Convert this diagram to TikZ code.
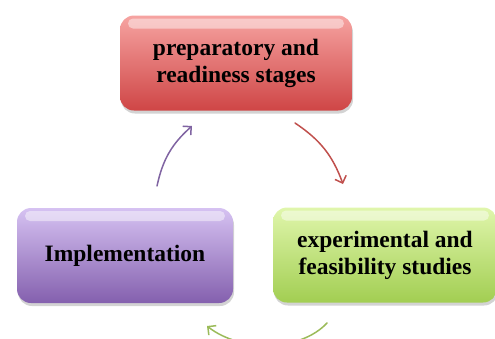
\documentclass[tikz,border=0pt]{standalone}
\usepackage{fontspec}
\setmainfont{Liberation Serif}
\usepackage{xcolor}
\usepackage{tikz}
\usetikzlibrary{arrows.meta,shadows}
\definecolor{redTop}{HTML}{F6A3A1}
\definecolor{redBot}{HTML}{CF4646}
\definecolor{redLine}{HTML}{C0504D}
\definecolor{purpleTop}{HTML}{D6C2F2}
\definecolor{purpleBot}{HTML}{8460AE}
\definecolor{purpleLine}{HTML}{8064A2}
\definecolor{greenTop}{HTML}{E0F6AC}
\definecolor{greenBot}{HTML}{A2CE52}
\definecolor{greenLine}{HTML}{9BBB59}
\tikzset{
  stageBox/.style={rounded corners=14pt, minimum height=95pt, align=center,
    text=black, font=\fontsize{23.5}{27}\selectfont\bfseries,
    drop shadow={shadow xshift=1pt, shadow yshift=-3pt, opacity=0.35},
    path picture={
      \fill[white, opacity=0.45, rounded corners=5pt]
        ([xshift=8pt,yshift=-3pt]path picture bounding box.north west)
        rectangle ([xshift=-8pt,yshift=-13pt]path picture bounding box.north east);
    }},
  cycleArrow/.style={line width=1.5pt, line cap=round,
    -{Straight Barb[length=6pt,width=12pt]}}
}

\begin{document}
\begin{tikzpicture}[x=1pt,y=-1pt]
  \useasboundingbox (0,0) rectangle (495,338);
  \clip (0,0) rectangle (495,338);

  % the three stages
  \node[stageBox, top color=redTop, bottom color=redBot, minimum width=232pt]
    (prep) at (236,63) {preparatory and\\readiness stages};
  \node[stageBox, top color=greenTop, bottom color=greenBot, minimum width=224pt]
    (exper) at (385,255) {experimental and\\feasibility studies};
  \node[stageBox, top color=purpleTop, bottom color=purpleBot, minimum width=216pt]
    (impl) at (125,255.5) {Implementation};

  % arrow ends
  \coordinate (prepOut) at (295,123);
  \coordinate (experIn) at (343,184);
  \coordinate (experOut) at (327,323);
  \coordinate (implIn) at (207,326);
  \coordinate (implOut) at (157,186);
  \coordinate (prepIn) at (192,126);

  \draw[cycleArrow, redLine] (prepOut) to[bend left=18] (experIn);
  \draw[cycleArrow, greenLine] (experOut) .. controls (300,352) and (240,352) .. (implIn);
  \draw[cycleArrow, purpleLine] (implOut) to[bend left=18] (prepIn);
\end{tikzpicture}
\end{document}
